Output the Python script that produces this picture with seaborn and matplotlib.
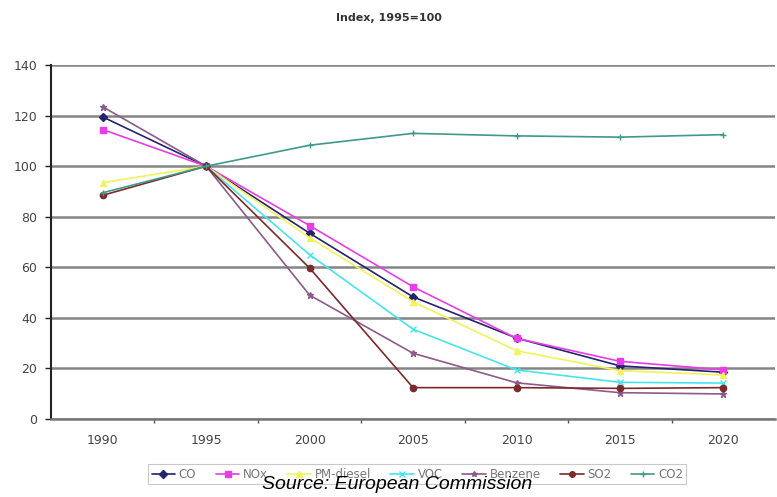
import numpy as np
import pandas as pd
import matplotlib
matplotlib.use("Agg")
import matplotlib.pyplot as plt
import seaborn as sns
from matplotlib.lines import Line2D

years = ["1990", "1995", "2000", "2005", "2010", "2015", "2020"]
co = [119.5, 100, 73.5, 48.3, 32.0, 21.0, 18.5]
nox = [114.5, 100, 76.5, 52.3, 31.9, 22.8, 19.4]
pm_diesel = [93.5, 100, 71.7, 46.4, 27.0, 19.1, 17.4]
voc = [np.nan, 100, 65.0, 35.5, 19.4, 14.5, 14.2]
benzene = [123.5, 100, 49.0, 26.0, 14.3, 10.4, 9.9]
so2 = [88.5, 100, 59.7, 12.4, 12.4, 12.1, 12.4]
co2 = [89.5, 100, 108.3, 113.0, 112.0, 111.5, 112.5]

names = ["CO", "NOx", "PM-diesel", "VOC", "Benzene", "SO2", "CO2"]
series = [co, nox, pm_diesel, voc, benzene, so2, co2]
colors = ["#23236e", "#e83ce8", "#f2f25a", "#48e4ec", "#8e5a8a", "#7a2a2a", "#3e9a8a"]
markers = ["D", "s", "^", "x", "*", "o", "+"]

sns.set_theme(style="white")
plt.rcParams["font.family"] = ["DejaVu Sans"]

fig = plt.figure(figsize=(7.77, 4.97), dpi=100)
ax = fig.add_axes([0.0656, 0.157, 0.932, 0.712])

xpos = list(range(len(years)))
for name, vals, c, m in zip(names, series, colors, markers):
    df = pd.DataFrame({"x": xpos, "y": vals}).dropna()
    sns.lineplot(data=df, x="x", y="y", ax=ax, color=c, marker=m,
                 markersize=4.5, markeredgecolor=c, markeredgewidth=1.0,
                 linewidth=1.2, legend=False)

ax.set_xlim(-0.5, 6.5)
ax.set_ylim(0, 140)
ax.set_yticks(range(0, 141, 20))
ax.set_xticks(xpos)
ax.set_xticklabels(years)
ax.set_xticks([i + 0.5 for i in range(6)], minor=True)
ax.set_xlabel("")
ax.set_ylabel("")
ax.yaxis.grid(True, color="#858585", linewidth=1.8)
ax.set_axisbelow(True)
for s in ["top", "right"]:
    ax.spines[s].set_visible(False)
ax.spines["left"].set_color("#222222")
ax.spines["left"].set_linewidth(1.5)
ax.spines["bottom"].set_color("#777777")
ax.spines["bottom"].set_linewidth(1.8)
ax.tick_params(axis="y", which="major", length=4, width=1, color="#222222",
               labelsize=9, labelcolor="#444444", pad=6, left=True)
ax.tick_params(axis="x", which="major", length=0, labelsize=9,
               labelcolor="#444444", pad=11)
ax.tick_params(axis="x", which="minor", length=3, width=1, color="#555555",
               bottom=True)

fig.text(0.5, 0.964, "Index, 1995=100", ha="center", va="center",
         fontsize=8, fontweight="bold", color="#333333")

handles = [Line2D([0], [0], color=c, marker=m, markersize=4, linewidth=1.2,
                  markeredgecolor=c) for c, m in zip(colors, markers)]
leg = fig.legend(handles, names, loc="center", bbox_to_anchor=(0.537, 0.046),
                 ncol=7, fontsize=8.5, frameon=True, handlelength=2.0,
                 columnspacing=1.65, handletextpad=0.3, borderpad=0.3,
                 fancybox=False)
leg.get_frame().set_edgecolor("#bbbbbb")
leg.get_frame().set_linewidth(0.8)
leg.set_zorder(2)
for t in leg.get_texts():
    t.set_color("#777777")

fig.text(0.511, 0.016, "Source: European Commission", ha="center",
         va="baseline", fontsize=14, style="italic", color="black",
         family="Liberation Sans", zorder=10)

fig.savefig("out.png", dpi=100)
